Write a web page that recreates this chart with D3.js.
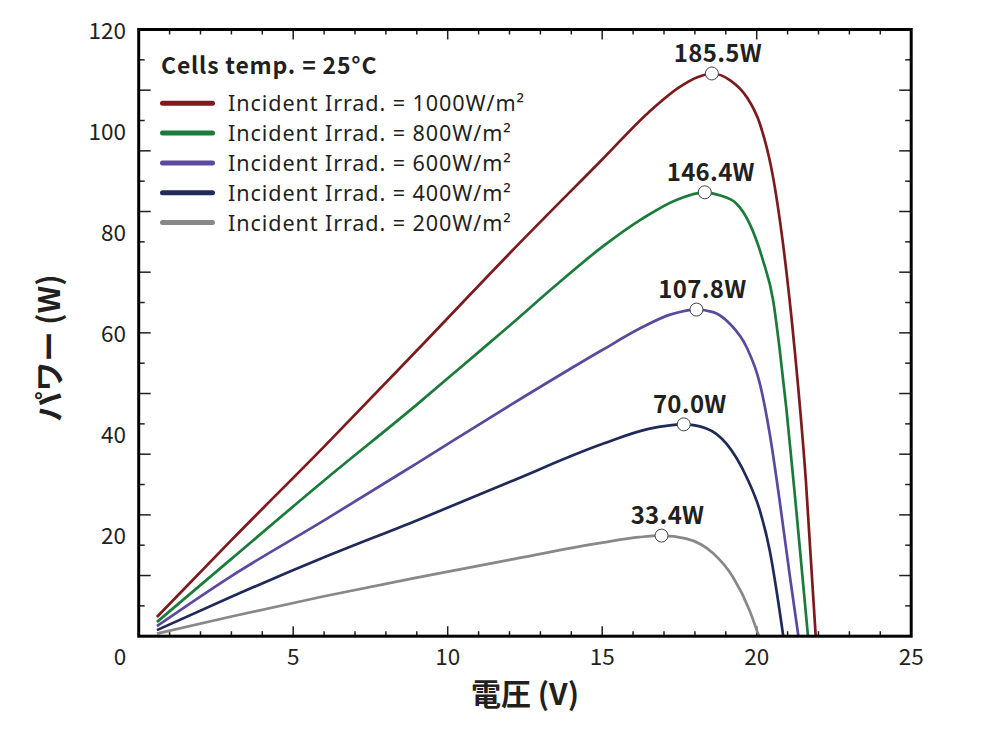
<!DOCTYPE html>
<html>
<head>
<meta charset="utf-8">
<script src="https://cdn.jsdelivr.net/npm/d3@7"></script>
<style>
  html, body { margin: 0; padding: 0; background: #fff; }
  svg { display: block; }
  text { font-family: "Noto Sans CJK JP", "Noto Sans", sans-serif; fill: #231f20; }
</style>
</head>
<body>
<svg id="chart" width="1000" height="730"></svg>
<script>
// ---------------- data ----------------
const irradiance = [1000, 800, 600, 400, 200];
const seriesNames = irradiance.map(d => "Incident Irrad. = " + d + "W/m²");

const v1000 = [0.59, 3, 6, 9, 12, 15, 16.5, 17.5, 18.1, 18.55, 19.13, 19.67, 20.10, 20.53, 20.85, 21.23, 21.59, 21.91];
const p1000 = [3.8, 19.0, 37.5, 56.5, 75.7, 94.3, 103.6, 108.6, 110.6, 111.3, 110.0, 106.7, 101.4, 90.8, 77.7, 56.6, 30.9, 0];

const v800 = [0.59, 3, 6, 9, 10.5, 12, 13.5, 15, 16.3, 17.4, 18.32, 18.80, 19.34, 19.77, 20.20, 20.53, 20.74, 20.96, 21.28, 21.66];
const p800 = [2.8, 15.3, 30.8, 45.8, 53.6, 61.4, 69.4, 77.0, 82.6, 86.3, 87.8, 87.2, 85.6, 81.6, 74.4, 66.5, 56.9, 45.0, 25.0, 0];

const v600 = [0.59, 3, 6, 9, 12, 15, 16.2, 17.2, 18.05, 18.59, 19.13, 19.67, 20.10, 20.42, 20.74, 21.07, 21.35];
const p600 = [2.0, 11.9, 22.9, 34.2, 45.6, 56.6, 60.8, 63.6, 64.6, 64.1, 61.8, 57.2, 50.0, 40.1, 26.9, 12.0, 0];

const v400 = [0.59, 3, 6, 9, 12, 15, 16.5, 17.64, 18.37, 19.02, 19.67, 20.10, 20.42, 20.64, 20.86];
const p400 = [1.2, 7.8, 15.6, 22.9, 30.5, 38.0, 41.0, 41.9, 41.1, 38.1, 31.5, 24.9, 17.0, 9.1, 0];

const v200 = [0.59, 3, 6, 9, 12, 15, 16.2, 16.92, 17.72, 18.59, 19.23, 19.77, 20.07];
const p200 = [0.5, 3.9, 7.9, 11.6, 15.1, 18.5, 19.6, 19.9, 19.3, 16.4, 11.7, 5.1, 0];

const peakV = [18.55, 18.32, 18.05, 17.64, 16.92];
const peakP = [111.3, 87.8, 64.6, 41.9, 19.9];
const peakLabels = ["185.5W", "146.4W", "107.8W", "70.0W", "33.4W"];

const xTickLabels = [5, 10, 15, 20, 25];
const yTickLabels = [20, 40, 60, 80, 100, 120];
const xMinorTicks = d3.range(1, 25);
const yMinorTicks = d3.range(6, 120, 6);

const colors = ["#7c1a1e", "#1b7b3b", "#5b499e", "#1f2a5b", "#888888"];
const legendTitle = "Cells temp. = 25°C";
const xTitle = "電圧 (V)";
const yTitle = "パワー (W)";

// ---------------- layout ----------------
const svg = d3.select("#chart");
const L = 138.7, R = 911.2, T = 29.5, B = 636.2;
const x = d3.scaleLinear().domain([0, 25]).range([L, R]);
const y = d3.scaleLinear().domain([0, 120]).range([B, T]);
const ink = "#231f20";

const series = [
  {v: v1000, p: p1000}, {v: v800, p: p800}, {v: v600, p: p600},
  {v: v400, p: p400}, {v: v200, p: p200}
];

// ticks (inward on all four sides)
const gT = svg.append("g").attr("stroke", ink).attr("stroke-width", 1.5);
xMinorTicks.forEach(t => {
  const len = t % 5 === 0 ? 10 : 5;
  gT.append("line").attr("x1", x(t)).attr("x2", x(t)).attr("y1", B).attr("y2", B - len);
  gT.append("line").attr("x1", x(t)).attr("x2", x(t)).attr("y1", T).attr("y2", T + len);
});
yMinorTicks.forEach(t => {
  const len = t % 12 === 0 ? 12 : 6;
  gT.append("line").attr("y1", y(t)).attr("y2", y(t)).attr("x1", L).attr("x2", L + len);
  gT.append("line").attr("y1", y(t)).attr("y2", y(t)).attr("x1", R).attr("x2", R - len);
});

// curves
const line = d3.line().x(d => x(d[0])).y(d => y(d[1])).curve(d3.curveMonotoneX);
series.forEach((s, i) => {
  const pts = s.v.map((v, k) => [v, s.p[k]]);
  svg.append("path").attr("d", line(pts)).attr("fill", "none")
    .attr("stroke", colors[i]).attr("stroke-width", 2.7)
    .attr("stroke-linejoin", "round");
});

// frame
svg.append("rect").attr("x", L).attr("y", T).attr("width", R - L).attr("height", B - T)
  .attr("fill", "none").attr("stroke", "#000").attr("stroke-width", 3);

// peak markers + labels
peakV.forEach((v, i) => {
  svg.append("circle").attr("cx", x(v)).attr("cy", y(peakP[i])).attr("r", 6.5)
    .attr("fill", "#fff").attr("stroke", "#444").attr("stroke-width", 1);
  svg.append("text").attr("x", x(v) + 6).attr("y", y(peakP[i]) - 11.5)
    .attr("text-anchor", "middle").attr("font-size", 24).attr("font-weight", 700)
    .attr("letter-spacing", 0.3).text(peakLabels[i]);
});

// tick labels
xTickLabels.forEach(t => {
  svg.append("text").attr("x", x(t)).attr("y", 665).attr("text-anchor", "middle")
    .attr("font-size", 22.5).text(t);
});
svg.append("text").attr("x", 120).attr("y", 665).attr("text-anchor", "middle")
  .attr("font-size", 22.5).text("0");
yTickLabels.forEach(t => {
  svg.append("text").attr("x", 126).attr("y", y(t) + 9).attr("text-anchor", "end")
    .attr("font-size", 22.5).text(t);
});

// axis titles
svg.append("text").attr("x", 525).attr("y", 705).attr("text-anchor", "middle")
  .attr("font-size", 30).attr("font-weight", 700).text(xTitle);
svg.append("text").attr("transform", "translate(60,348) rotate(-90)")
  .attr("text-anchor", "middle").attr("font-size", 30).attr("font-weight", 700).text(yTitle);

// legend
svg.append("text").attr("x", 161).attr("y", 73.5).attr("font-size", 23)
  .attr("font-weight", 700).attr("letter-spacing", 0.8).text(legendTitle);
seriesNames.forEach((name, i) => {
  const ly = 103.3 + i * 29.8;
  svg.append("line").attr("x1", 162.5).attr("x2", 212.5).attr("y1", ly).attr("y2", ly)
    .attr("stroke", colors[i]).attr("stroke-width", 5).attr("stroke-linecap", "round");
  svg.append("text").attr("x", 228).attr("y", ly + 8)
    .style("font-family", "'Noto Sans', sans-serif")
    .attr("font-size", 21.6).attr("letter-spacing", 0.9).text(name);
});
</script>
</body>
</html>
